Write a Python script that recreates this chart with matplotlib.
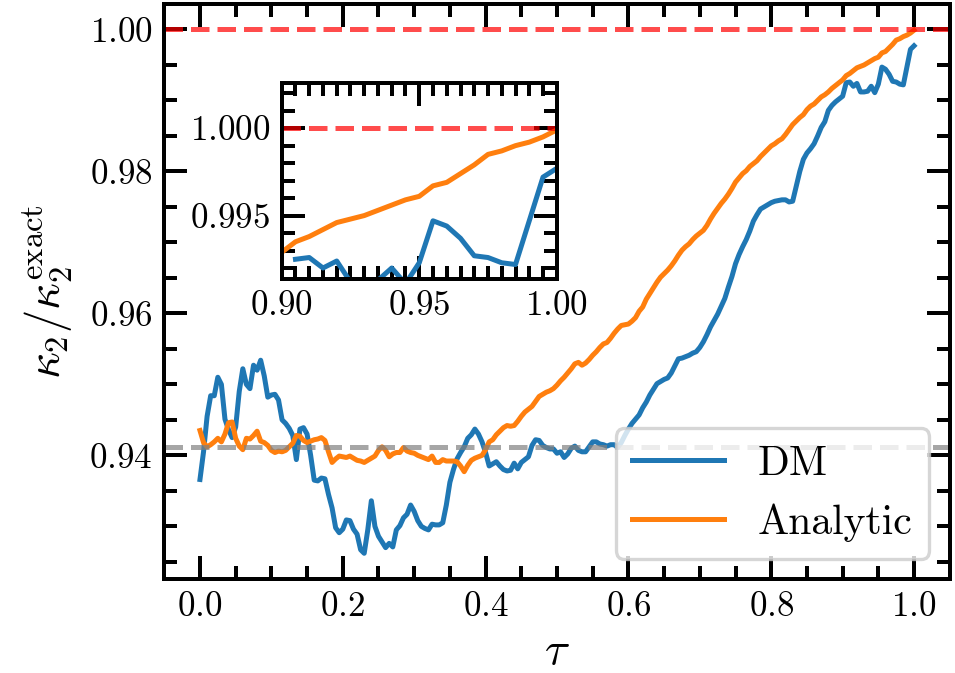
import matplotlib
matplotlib.use('Agg')
import matplotlib.pyplot as plt
from matplotlib.ticker import MultipleLocator
import numpy as np

# ─── data (tau grid of 0.005) ────────────────────────────────────────────────
tau = np.round(np.arange(0, 201) * 0.005, 3)

dm = [
    0.9366, 0.9405, 0.9455, 0.9484, 0.9484, 0.9510, 0.9500, 0.9451, 0.9436, 0.9425,
    0.9440, 0.9490, 0.9522, 0.9500, 0.9494, 0.9527, 0.9520, 0.9534, 0.9512, 0.9482,
    0.9485, 0.9486, 0.9478, 0.9450, 0.9445, 0.9438, 0.9428, 0.9394, 0.9437, 0.9439,
    0.9430, 0.9400, 0.9365, 0.9364, 0.9368, 0.9367, 0.9345, 0.9326, 0.9298, 0.9291,
    0.9296, 0.9309, 0.9308, 0.9296, 0.9289, 0.9267, 0.9262, 0.9295, 0.9336, 0.9300,
    0.9286, 0.9278, 0.9270, 0.9276, 0.9271, 0.9295, 0.9301, 0.9312, 0.9317, 0.9330,
    0.9321, 0.9308, 0.9300, 0.9297, 0.9295, 0.9303, 0.9302, 0.9302, 0.9305, 0.9330,
    0.9362, 0.9380, 0.9395, 0.9404, 0.9412, 0.9424, 0.9429, 0.9437, 0.9430, 0.9419,
    0.9404, 0.9385, 0.9388, 0.9391, 0.9385, 0.9380, 0.9378, 0.9379, 0.9389, 0.9381,
    0.9390, 0.9394, 0.9398, 0.9414, 0.9422, 0.9421, 0.9414, 0.9411, 0.9409, 0.9409,
    0.9403, 0.9405, 0.9397, 0.9402, 0.9410, 0.9413, 0.9407, 0.9405, 0.9405, 0.9412,
    0.9419, 0.9419, 0.9416, 0.9415, 0.9413, 0.9415, 0.9415, 0.9411, 0.9418, 0.9428,
    0.9437, 0.9445, 0.9451, 0.9457, 0.9467, 0.9475, 0.9485, 0.9493, 0.9501, 0.9504,
    0.9507, 0.9509, 0.9516, 0.9526, 0.9536, 0.9537, 0.9539, 0.9541, 0.9544, 0.9546,
    0.9552, 0.9560, 0.9570, 0.9581, 0.9590, 0.9599, 0.9610, 0.9621, 0.9637, 0.9652,
    0.9670, 0.9683, 0.9694, 0.9704, 0.9716, 0.9730, 0.9739, 0.9747, 0.9750, 0.9753,
    0.9756, 0.9758, 0.9759, 0.9760, 0.9760, 0.9757, 0.9758, 0.9779, 0.9800, 0.9817,
    0.9826, 0.9832, 0.9839, 0.9850, 0.9862, 0.9870, 0.9886, 0.9893, 0.9898, 0.9902,
    0.9906, 0.9925, 0.9926, 0.9920, 0.9924, 0.9912, 0.9912, 0.9913, 0.9920, 0.9911,
    0.9923, 0.9947, 0.9944, 0.9937, 0.9927, 0.9926, 0.9923, 0.9922, 0.9947, 0.9972,
    0.9977,
]

analytic = [
    0.9435, 0.9418, 0.9412, 0.9415, 0.9419, 0.9424, 0.9419, 0.9430, 0.9446, 0.9447,
    0.9424, 0.9413, 0.9408, 0.9424, 0.9423, 0.9428, 0.9434, 0.9420, 0.9418, 0.9414,
    0.9407, 0.9404, 0.9406, 0.9405, 0.9407, 0.9412, 0.9417, 0.9428, 0.9427, 0.9421,
    0.9418, 0.9420, 0.9422, 0.9423, 0.9425, 0.9421, 0.9405, 0.9390, 0.9395, 0.9399,
    0.9398, 0.9397, 0.9399, 0.9396, 0.9393, 0.9392, 0.9390, 0.9393, 0.9396, 0.9399,
    0.9407, 0.9412, 0.9407, 0.9398, 0.9402, 0.9404, 0.9404, 0.9411, 0.9406, 0.9404,
    0.9403, 0.9400, 0.9398, 0.9396, 0.9394, 0.9399, 0.9390, 0.9390, 0.9394, 0.9392,
    0.9392, 0.9392, 0.9391, 0.9385, 0.9377, 0.9386, 0.9393, 0.9396, 0.9398, 0.9400,
    0.9408, 0.9419, 0.9422, 0.9429, 0.9434, 0.9439, 0.9442, 0.9441, 0.9442, 0.9448,
    0.9455, 0.9461, 0.9465, 0.9469, 0.9476, 0.9483, 0.9486, 0.9489, 0.9491, 0.9494,
    0.9499, 0.9505, 0.9510, 0.9516, 0.9522, 0.9529, 0.9531, 0.9527, 0.9530, 0.9535,
    0.9541, 0.9546, 0.9552, 0.9557, 0.9559, 0.9565, 0.9572, 0.9578, 0.9583, 0.9584,
    0.9585, 0.9589, 0.9594, 0.9603, 0.9609, 0.9620, 0.9628, 0.9636, 0.9644, 0.9651,
    0.9656, 0.9661, 0.9667, 0.9674, 0.9682, 0.9689, 0.9694, 0.9698, 0.9704, 0.9709,
    0.9713, 0.9717, 0.9724, 0.9733, 0.9741, 0.9748, 0.9755, 0.9761, 0.9768, 0.9776,
    0.9785, 0.9791, 0.9797, 0.9801, 0.9807, 0.9811, 0.9815, 0.9821, 0.9826, 0.9831,
    0.9836, 0.9839, 0.9843, 0.9846, 0.9852, 0.9859, 0.9866, 0.9871, 0.9876, 0.9880,
    0.9887, 0.9892, 0.9895, 0.9900, 0.9905, 0.9908, 0.9912, 0.9917, 0.9921, 0.9925,
    0.9929, 0.9935, 0.9938, 0.9942, 0.9946, 0.9948, 0.9950, 0.9953, 0.9956, 0.9959,
    0.9961, 0.9967, 0.9969, 0.9974, 0.9979, 0.9985, 0.9987, 0.9990, 0.9992, 0.9995,
    0.9999,
]

baseline = 0.9412   # grey reference line
exact = 1.0         # red reference line

dm = np.array(dm)
analytic = np.array(analytic)

# ─── style (LaTeX-like look) ─────────────────────────────────────────────────
plt.rcParams['font.family'] = 'serif'
plt.rcParams['font.serif'] = ['cmr10']
plt.rcParams['mathtext.fontset'] = 'cm'
plt.rcParams['axes.formatter.use_mathtext'] = True
plt.rcParams['axes.linewidth'] = 1.2

DPI = 240
fig = plt.figure(figsize=(955 / DPI, 673 / DPI), dpi=DPI)
ax = fig.add_axes([0.172, 0.139, 0.8225, 0.855])

ax.plot(tau, dm, color='#1f77b4', lw=1.5, label='DM')
ax.plot(tau, analytic, color='#ff7f0e', lw=1.5, label='Analytic')
ax.axhline(baseline, color='gray', ls='--', lw=1.5, alpha=0.7)
ax.axhline(exact, color='red', ls='--', lw=1.5, alpha=0.7)

ax.set_xlabel(r'$\tau$', fontsize=14, labelpad=2.5)
ax.set_ylabel(r'$\kappa_2/\kappa_2^{\rm exact}$', fontsize=14)
ax.xaxis.set_major_locator(MultipleLocator(0.2))
ax.xaxis.set_minor_locator(MultipleLocator(0.05))
ax.yaxis.set_major_locator(MultipleLocator(0.02))
ax.yaxis.set_minor_locator(MultipleLocator(0.005))
ax.tick_params(which='both', direction='in', top=True, right=True, width=1.2, labelsize=10.5)
ax.tick_params(which='major', length=7)
ax.tick_params(which='minor', length=4)
ax.legend(loc='lower right', fontsize=12.5, handlelength=2.2)

# ─── inset: zoom near tau = 1 ────────────────────────────────────────────────
ins = fig.add_axes([0.295, 0.5854, 0.288, 0.2917])
sel = tau > 0.9
ins.plot(tau[sel], dm[sel], color='#1f77b4', lw=1.5)
sel = tau >= 0.9
ins.plot(tau[sel], analytic[sel], color='#ff7f0e', lw=1.5)
ins.axhline(exact, color='red', ls='--', lw=1.5, alpha=0.7)
ins.set_xlim(0.9, 1.0)
ins.set_ylim(0.99137, 1.0026)
ins.xaxis.set_major_locator(MultipleLocator(0.05))
ins.xaxis.set_minor_locator(MultipleLocator(0.005))
ins.yaxis.set_major_locator(MultipleLocator(0.005))
ins.yaxis.set_minor_locator(MultipleLocator(0.001))
ins.tick_params(which='both', direction='in', top=True, right=True, width=1.2, labelsize=10.5)
ins.tick_params(which='major', length=7)
ins.tick_params(which='minor', length=4)

fig.savefig('out.png', dpi=DPI)
